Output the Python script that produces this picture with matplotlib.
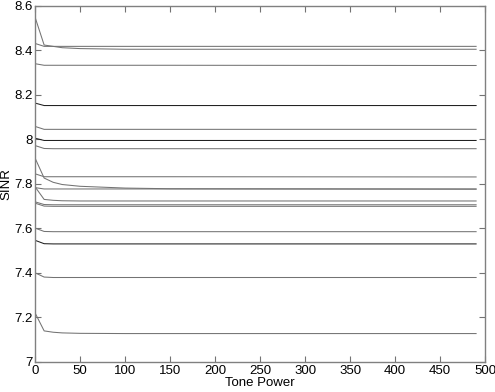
import numpy as np
import matplotlib
matplotlib.use("Agg")
import matplotlib.pyplot as plt

plt.rcParams['font.family'] = ['Liberation Sans', 'DejaVu Sans']

# tone power sample points
tone_power = [0, 10, 20, 30, 50, 100, 150, 490]

# SINR curves, one per user; value at each tone_power point
sinr_curves = [
    [8.548, 8.424, 8.418, 8.412, 8.408, 8.405, 8.405, 8.405],
    [8.431, 8.418, 8.418, 8.418, 8.418, 8.418, 8.418, 8.418],
    [8.340, 8.333, 8.333, 8.333, 8.333, 8.333, 8.333, 8.332],
    [8.163, 8.152, 8.152, 8.152, 8.152, 8.152, 8.152, 8.152],
    [8.058, 8.045, 8.045, 8.045, 8.045, 8.045, 8.045, 8.045],
    [8.005, 7.995, 7.995, 7.995, 7.995, 7.995, 7.995, 7.995],
    [7.972, 7.959, 7.958, 7.958, 7.958, 7.958, 7.958, 7.958],
    [7.915, 7.826, 7.807, 7.797, 7.789, 7.781, 7.778, 7.777],
    [7.845, 7.832, 7.832, 7.832, 7.832, 7.832, 7.832, 7.831],
    [7.783, 7.777, 7.777, 7.777, 7.777, 7.777, 7.777, 7.776],
    [7.786, 7.730, 7.726, 7.724, 7.723, 7.723, 7.723, 7.723],
    [7.719, 7.707, 7.706, 7.706, 7.706, 7.706, 7.706, 7.706],
    [7.713, 7.700, 7.699, 7.699, 7.699, 7.699, 7.699, 7.699],
    [7.601, 7.586, 7.585, 7.585, 7.585, 7.585, 7.585, 7.585],
    [7.546, 7.531, 7.530, 7.530, 7.530, 7.530, 7.530, 7.530],
    [7.400, 7.381, 7.379, 7.379, 7.379, 7.379, 7.379, 7.379],
    [7.219, 7.139, 7.133, 7.130, 7.128, 7.127, 7.127, 7.127],
]
# curves that look darker (overlapping users)
dark_idx = [3, 5, 14]

x_ticks = [0, 50, 100, 150, 200, 250, 300, 350, 400, 450, 500]
y_ticks = [7, 7.2, 7.4, 7.6, 7.8, 8, 8.2, 8.4, 8.6]
y_ticklabels = ["7", "7.2", "7.4", "7.6", "7.8", "8", "8.2", "8.4", "8.6"]


def main():
    fig = plt.figure(figsize=(4.95, 3.92), dpi=100)
    ax = fig.add_axes([0.071, 0.077, 0.909, 0.908])

    for i, ys in enumerate(sinr_curves):
        c = "0.12" if i in dark_idx else "0.45"
        ax.plot(tone_power, ys, color=c, lw=0.75)

    ax.set_xlim(0, 500)
    ax.set_ylim(7, 8.6)
    ax.set_xticks(x_ticks)
    ax.set_yticks(y_ticks)
    ax.set_yticklabels(y_ticklabels)
    ax.tick_params(direction="in", top=True, right=True, length=4,
                   width=0.8, color="0.45", labelsize=9.5, pad=2)
    for s in ax.spines.values():
        s.set_color("0.5")
        s.set_linewidth(1.0)

    ax.set_xlabel("Tone Power", fontsize=9.5, labelpad=0)
    ax.set_ylabel("SINR", fontsize=9.5, labelpad=1)

    fig.savefig("out.png", dpi=100)
    plt.close(fig)


if __name__ == "__main__":
    main()
